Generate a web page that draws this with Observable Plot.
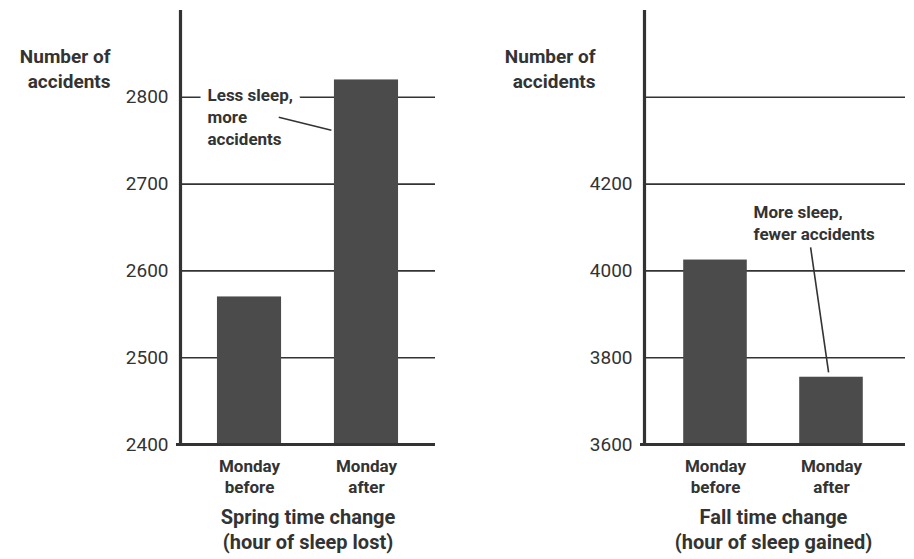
<!DOCTYPE html>
<html>
<head>
<meta charset="utf-8">
<script src="https://cdn.jsdelivr.net/npm/d3@7"></script>
<script src="https://cdn.jsdelivr.net/npm/@observablehq/plot@0.6"></script>
<style>
  html, body { margin: 0; padding: 0; background: #fff; }
  #chart { display: flex; width: 914px; height: 559px; }
  #chart svg { display: block; }
</style>
</head>
<body>
<div id="chart"></div>
<script>
// ---- data ----
const categories = ["Monday before", "Monday after"];
const categoryLabels = ["Monday\nbefore", "Monday\nafter"];
const springValues = [2570, 2820];
const fallValues = [4025, 3755];
const springDomain = [2400, 2900];
const fallDomain = [3600, 4600];
const springGrid = [2500, 2600, 2700, 2800];
const fallGrid = [3800, 4000, 4200, 4400];
const springTickLabels = [2400, 2500, 2600, 2700, 2800];
const fallTickLabels = [3600, 3800, 4000, 4200];
const yLabel = "Number of\naccidents";
const springTitle = "Spring time change\n(hour of sleep lost)";
const fallTitle = "Fall time change\n(hour of sleep gained)";
const springNote = "Less sleep,\nmore\naccidents";
const fallNote = "More sleep,\nfewer accidents";
// annotation anchors in data space (category index, value)
const springNoteAt = {x: 0, y: 2800};
const fallNoteAt = {x: 0, y: 4200};
const springLeader = [{x1: 0.25, y1: 2777, x2: 0.70, y2: 2762}];
const fallLeader = [{x1: 0.82, y1: 4054, x2: 0.975, y2: 3766}];

const FONT = "Roboto, 'Open Sans', sans-serif";
const INK = "#333";
const BAR = "#4b4b4b";
const HALF = 0.274;

function panel({values, domain, grid, ticks, xDomain, marginLeft, marginRight,
                title, note, noteAt, noteDx, noteDy, leader, yLabelDx}) {
  const rows = values.map((v, i) => ({i, cat: categories[i], value: v}));
  return Plot.plot({
    width: 457,
    height: 559,
    marginLeft, marginRight,
    marginTop: 10,
    marginBottom: 115,
    style: {background: "transparent", fontFamily: FONT, color: INK, overflow: "visible"},
    x: {type: "linear", domain: xDomain, axis: null},
    y: {domain, axis: null},
    marks: [
      Plot.ruleY(grid, {y: d => d, stroke: INK, strokeWidth: 1.6}),
      Plot.rect(rows, {x1: d => d.i - HALF, x2: d => d.i + HALF, y1: () => domain[0], y2: "value", fill: BAR}),
      Plot.text([note], {x: () => noteAt.x, y: () => noteAt.y, text: d => d, dx: noteDx, dy: noteDy,
        textAnchor: "start", lineAnchor: "top", lineHeight: 1.3, fontSize: 17, fontWeight: "bold",
        fill: INK, stroke: "white", strokeWidth: 16, strokeLinejoin: "round"}),
      Plot.link(leader, {x1: "x1", y1: "y1", x2: "x2", y2: "y2", stroke: INK, strokeWidth: 1.6}),
      Plot.ruleX([domain[0]], {x: () => xDomain[0], stroke: INK, strokeWidth: 3.2}),
      Plot.ruleY([domain[0]], {y: d => d, stroke: INK, strokeWidth: 3.2, insetLeft: -4}),
      Plot.text(ticks, {y: d => d, text: d => String(d), frameAnchor: "left", textAnchor: "end",
        dx: -12, fontSize: 19, fill: INK}),
      Plot.text(rows, {x: "i", y: () => domain[0], text: d => categoryLabels[d.i], dy: 31,
        lineAnchor: "middle", lineHeight: 1.25, fontSize: 17, fontWeight: "bold", fill: INK}),
      Plot.text([title], {x: () => 0.5, y: () => domain[0], text: d => d, dy: 84,
        lineAnchor: "middle", lineHeight: 1.25, fontSize: 20, fontWeight: "bold", fill: INK}),
      Plot.text([yLabel], {frameAnchor: "top-left", text: d => d, dx: yLabelDx, dy: 57,
        textAnchor: "end", lineAnchor: "middle", lineHeight: 1.3, fontSize: 19, fontWeight: "bold", fill: INK})
    ]
  });
}

const chart = document.getElementById("chart");
chart.append(panel({
  values: springValues, domain: springDomain, grid: springGrid, ticks: springTickLabels,
  xDomain: [-0.59, 1.59], marginLeft: 180, marginRight: 22,
  title: springTitle, note: springNote, noteAt: springNoteAt, noteDx: -42, noteDy: -12,
  leader: springLeader, yLabelDx: -70
}));
chart.append(panel({
  values: fallValues, domain: fallDomain, grid: fallGrid, ticks: fallTickLabels,
  xDomain: [-0.612, 1.638], marginLeft: 187, marginRight: 9,
  title: fallTitle, note: fallNote, noteAt: fallNoteAt, noteDx: 38, noteDy: 18,
  leader: fallLeader, yLabelDx: -49
}));
</script>
</body>
</html>
